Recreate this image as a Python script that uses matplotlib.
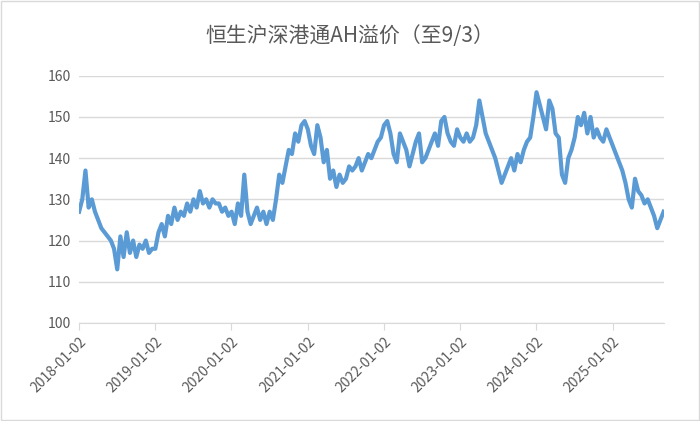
import matplotlib
matplotlib.use("Agg")
import matplotlib.pyplot as plt
import pandas as pd
import numpy as np

plt.rcParams['font.family'] = ['Noto Sans CJK SC', 'DejaVu Sans']

values = [
 127,130,137,128,130,127,125,123,122,121,120,118,113,121,116,122,117,120,116,119,118,120,117,118,
 118,122,124,121,126,124,128,125,127,126,129,127,130,128,132,129,130,128,130,129,129,127,128,126,
 127,124,129,126,136,127,124,126,128,125,127,124,127,125,130,136,134,138,142,141,146,144,148,149,
 147,143,141,148,145,139,142,135,137,133,136,134,135,138,137,138,140,137,139,141,140,142,144,145,
 148,149,146,141,139,146,144,142,138,141,144,146,139,140,142,144,146,143,149,150,146,144,143,147,
 145,144,146,144,145,148,154,150,146,144,142,140,137,134,136,138,140,137,141,139,142,144,145,150,
 156,153,150,147,154,152,146,145,136,134,140,142,145,150,148,151,146,150,145,147,145,144,147,145,
 143,141,139,137,134,130,128,135,132,131,129,130,128,126,123,125,127]
start, end = "2018-01-02", "2025-09-03"
tick_labels = ["2018-01-02","2019-01-02","2020-01-02","2021-01-02","2022-01-02",
               "2023-01-02","2024-01-02","2025-01-02"]

t0, t1 = pd.Timestamp(start).value, pd.Timestamp(end).value
dates = pd.to_datetime(np.linspace(t0, t1, len(values)))

fig = plt.figure(figsize=(7, 4.21), dpi=100)
ax = fig.add_axes([0.113, 0.233, 0.835, 0.587])
ax.plot(dates, values, color='#5B9BD5', lw=3, solid_joinstyle='round')
ax.set_ylim(100, 160)
ax.set_yticks(range(100, 161, 10))
ax.set_xlim(pd.Timestamp(start), pd.Timestamp(end))
ax.set_xticks(pd.to_datetime(tick_labels))
ax.set_xticklabels(tick_labels, rotation=45, ha='right', rotation_mode='anchor')
ax.grid(axis='y', color='#D9D9D9', lw=1)
ax.set_axisbelow(True)
for s in ['top', 'right', 'left']:
    ax.spines[s].set_visible(False)
ax.spines['bottom'].set_color('#D9D9D9')
ax.tick_params(axis='y', length=0, labelsize=10, colors='#595959', pad=6)
ax.tick_params(axis='x', length=5, color='#D9D9D9', labelsize=10, colors='#595959')
fig.text(0.5, 0.915, "恒生沪深港通AH溢价（至9/3）", ha='center', va='center',
         fontsize=15, color='#595959')
fig.patches.append(plt.Rectangle((0.002, 0.002), 0.996, 0.996, transform=fig.transFigure,
                                 fill=False, edgecolor='#D9D9D9', lw=1))
fig.savefig("out.png", dpi=100)
